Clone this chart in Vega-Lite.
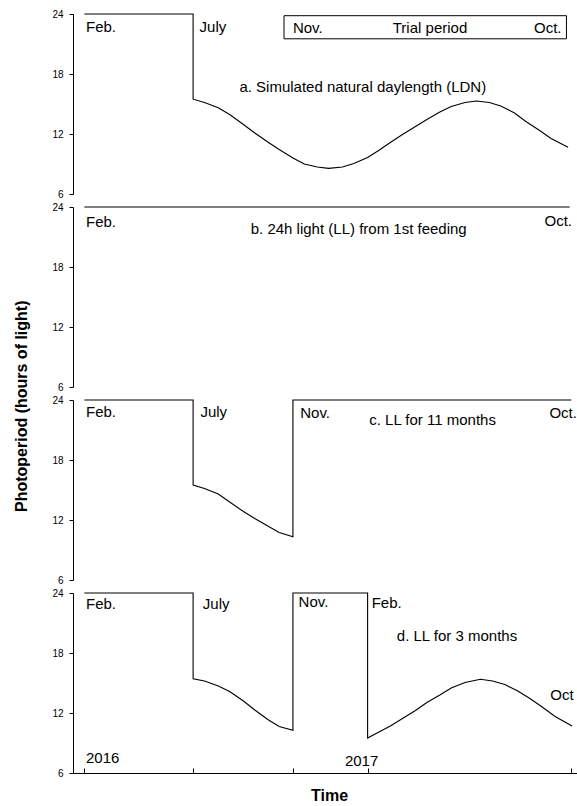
{
  "$schema": "https://vega.github.io/schema/vega-lite/v6.json",
  "padding": {"left": 13, "top": 9, "right": 0, "bottom": 0},
  "background": "white",
  "bounds": "flush",
  "config": {
    "font": "Liberation Sans",
    "view": {"stroke": null},
    "axis": {
      "grid": false,
      "domainColor": "#000000",
      "tickColor": "#000000",
      "labelColor": "#000000",
      "titleColor": "#000000",
      "labelFont": "Liberation Sans",
      "titleFont": "Liberation Sans",
      "labelFontSize": 10,
      "domainWidth": 1,
      "tickWidth": 1
    },
    "text": {"font": "Liberation Sans", "fontSize": 15, "color": "#000000", "align": "left", "baseline": "alphabetic"},
    "line": {"color": "#000000", "strokeWidth": 1.1}
  },
  "title": {
    "text": "Photoperiod (hours of light)",
    "orient": "left",
    "anchor": "middle",
    "font": "Liberation Sans",
    "fontSize": 16,
    "fontWeight": "bold",
    "color": "#000000",
    "offset": 22
  },
  "datasets": {
    "ldn": [
      {"i": 1, "date": "2016-02-18", "hours": 24},
      {"i": 2, "date": "2016-07-01", "hours": 24},
      {"i": 3, "date": "2016-07-01", "hours": 15.48},
      {"i": 4, "date": "2016-07-15", "hours": 15.15},
      {"i": 5, "date": "2016-08-01", "hours": 14.63},
      {"i": 6, "date": "2016-08-15", "hours": 13.95},
      {"i": 7, "date": "2016-09-01", "hours": 12.95},
      {"i": 8, "date": "2016-09-15", "hours": 12.1},
      {"i": 9, "date": "2016-10-01", "hours": 11.2},
      {"i": 10, "date": "2016-10-15", "hours": 10.45},
      {"i": 11, "date": "2016-11-01", "hours": 9.6},
      {"i": 12, "date": "2016-11-15", "hours": 9.0},
      {"i": 13, "date": "2016-12-01", "hours": 8.7},
      {"i": 14, "date": "2016-12-15", "hours": 8.56},
      {"i": 15, "date": "2017-01-01", "hours": 8.7},
      {"i": 16, "date": "2017-01-15", "hours": 9.05},
      {"i": 17, "date": "2017-02-01", "hours": 9.65},
      {"i": 18, "date": "2017-02-15", "hours": 10.38},
      {"i": 19, "date": "2017-03-01", "hours": 11.15},
      {"i": 20, "date": "2017-03-15", "hours": 11.9},
      {"i": 21, "date": "2017-04-01", "hours": 12.75},
      {"i": 22, "date": "2017-04-15", "hours": 13.45},
      {"i": 23, "date": "2017-05-01", "hours": 14.2},
      {"i": 24, "date": "2017-05-15", "hours": 14.75},
      {"i": 25, "date": "2017-06-01", "hours": 15.15},
      {"i": 26, "date": "2017-06-15", "hours": 15.3},
      {"i": 27, "date": "2017-07-01", "hours": 15.15},
      {"i": 28, "date": "2017-07-15", "hours": 14.8},
      {"i": 29, "date": "2017-08-01", "hours": 14.1},
      {"i": 30, "date": "2017-08-15", "hours": 13.25},
      {"i": 31, "date": "2017-09-01", "hours": 12.35},
      {"i": 32, "date": "2017-09-15", "hours": 11.55},
      {"i": 33, "date": "2017-10-06", "hours": 10.68}
    ],
    "ll": [
      {"i": 1, "date": "2016-02-18", "hours": 24},
      {"i": 2, "date": "2017-10-08", "hours": 24}
    ],
    "ll11": [
      {"i": 1, "date": "2016-02-18", "hours": 24},
      {"i": 2, "date": "2016-07-01", "hours": 24},
      {"i": 3, "date": "2016-07-01", "hours": 15.5},
      {"i": 4, "date": "2016-07-15", "hours": 15.15},
      {"i": 5, "date": "2016-08-01", "hours": 14.6},
      {"i": 6, "date": "2016-08-15", "hours": 13.8},
      {"i": 7, "date": "2016-09-01", "hours": 12.85},
      {"i": 8, "date": "2016-09-15", "hours": 12.15},
      {"i": 9, "date": "2016-10-01", "hours": 11.4},
      {"i": 10, "date": "2016-10-15", "hours": 10.75},
      {"i": 11, "date": "2016-11-01", "hours": 10.33},
      {"i": 12, "date": "2016-11-01", "hours": 24},
      {"i": 13, "date": "2017-10-10", "hours": 24}
    ],
    "ll3": [
      {"i": 1, "date": "2016-02-18", "hours": 24},
      {"i": 2, "date": "2016-07-01", "hours": 24},
      {"i": 3, "date": "2016-07-01", "hours": 15.43},
      {"i": 4, "date": "2016-07-15", "hours": 15.2},
      {"i": 5, "date": "2016-08-01", "hours": 14.7},
      {"i": 6, "date": "2016-08-15", "hours": 14.15},
      {"i": 7, "date": "2016-09-01", "hours": 13.2},
      {"i": 8, "date": "2016-09-15", "hours": 12.3},
      {"i": 9, "date": "2016-10-01", "hours": 11.35},
      {"i": 10, "date": "2016-10-15", "hours": 10.65},
      {"i": 11, "date": "2016-11-01", "hours": 10.27},
      {"i": 12, "date": "2016-11-01", "hours": 24},
      {"i": 13, "date": "2017-02-01", "hours": 24},
      {"i": 14, "date": "2017-02-01", "hours": 9.5},
      {"i": 15, "date": "2017-02-15", "hours": 10.1},
      {"i": 16, "date": "2017-03-01", "hours": 10.7},
      {"i": 17, "date": "2017-03-15", "hours": 11.4},
      {"i": 18, "date": "2017-04-01", "hours": 12.25},
      {"i": 19, "date": "2017-04-15", "hours": 13.05},
      {"i": 20, "date": "2017-05-01", "hours": 13.8},
      {"i": 21, "date": "2017-05-15", "hours": 14.5},
      {"i": 22, "date": "2017-06-01", "hours": 15.05},
      {"i": 23, "date": "2017-06-20", "hours": 15.37},
      {"i": 24, "date": "2017-07-05", "hours": 15.2},
      {"i": 25, "date": "2017-07-20", "hours": 14.85},
      {"i": 26, "date": "2017-08-05", "hours": 14.2},
      {"i": 27, "date": "2017-08-20", "hours": 13.45},
      {"i": 28, "date": "2017-09-05", "hours": 12.55},
      {"i": 29, "date": "2017-09-20", "hours": 11.65},
      {"i": 30, "date": "2017-10-11", "hours": 10.7}
    ],
    "trial": [
      {"start": "2016-10-21", "end": "2017-10-04", "top": 23.83, "bottom": 21.52}
    ],
    "labels": [
      {"panel": "a", "date": "2016-02-20", "hours": 22.16, "label": "Feb."},
      {"panel": "a", "date": "2016-07-09", "hours": 22.2, "label": "July"},
      {"panel": "a", "date": "2016-08-27", "hours": 16.2, "label": "a. Simulated natural daylength (LDN)"},
      {"panel": "a", "date": "2016-11-01", "hours": 22.06, "label": "Nov."},
      {"panel": "a", "date": "2017-03-04", "hours": 22.06, "label": "Trial period"},
      {"panel": "a", "date": "2017-08-25", "hours": 22.06, "label": "Oct."},
      {"panel": "b", "date": "2016-02-20", "hours": 22.02, "label": "Feb."},
      {"panel": "b", "date": "2016-09-10", "hours": 21.35, "label": "b. 24h light (LL) from 1st feeding"},
      {"panel": "b", "date": "2017-09-07", "hours": 22.09, "label": "Oct."},
      {"panel": "c", "date": "2016-02-20", "hours": 22.26, "label": "Feb."},
      {"panel": "c", "date": "2016-07-10", "hours": 22.26, "label": "July"},
      {"panel": "c", "date": "2016-11-10", "hours": 22.16, "label": "Nov."},
      {"panel": "c", "date": "2017-02-03", "hours": 21.49, "label": "c. LL for 11 months"},
      {"panel": "c", "date": "2017-09-13", "hours": 22.2, "label": "Oct."},
      {"panel": "d", "date": "2016-02-20", "hours": 22.36, "label": "Feb."},
      {"panel": "d", "date": "2016-07-13", "hours": 22.36, "label": "July"},
      {"panel": "d", "date": "2016-11-08", "hours": 22.56, "label": "Nov."},
      {"panel": "d", "date": "2017-02-06", "hours": 22.46, "label": "Feb."},
      {"panel": "d", "date": "2017-03-09", "hours": 19.2, "label": "d. LL for 3 months"},
      {"panel": "d", "date": "2017-09-14", "hours": 13.34, "label": "Oct"},
      {"panel": "d", "date": "2016-02-20", "hours": 6.97, "label": "2016"},
      {"panel": "d", "date": "2017-01-04", "hours": 6.7, "label": "2017"}
    ]
  },
  "spacing": 13,
  "vconcat": [
    {
      "width": 504,
      "height": 180,
      "layer": [
        {
          "data": {"name": "ldn"},
          "mark": "line",
          "encoding": {
            "x": {"field": "date", "type": "temporal", "scale": {"type": "utc", "domain": [{"year": 2016, "month": 2, "date": 4, "utc": true}, {"year": 2017, "month": 10, "date": 17, "utc": true}]}, "axis": null},
            "y": {"field": "hours", "type": "quantitative", "scale": {"domain": [6, 24], "nice": false, "zero": false}, "axis": {"values": [6, 12, 18, 24], "title": null, "tickSize": 4, "labelPadding": 6}},
            "order": {"field": "i", "type": "quantitative"}
          }
        },
        {
          "data": {"name": "trial"},
          "mark": {"type": "rect", "fill": "white", "fillOpacity": 0, "stroke": "#000000", "strokeWidth": 1},
          "encoding": {
            "x": {"field": "start", "type": "temporal"},
            "x2": {"field": "end"},
            "y": {"field": "top", "type": "quantitative", "title": null},
            "y2": {"field": "bottom"}
          }
        },
        {
          "data": {"name": "labels"},
          "transform": [{"filter": "datum.panel === 'a'"}],
          "mark": "text",
          "encoding": {
            "x": {"field": "date", "type": "temporal"},
            "y": {"field": "hours", "type": "quantitative", "title": null},
            "text": {"field": "label"}
          }
        }
      ]
    },
    {
      "width": 504,
      "height": 180,
      "layer": [
        {
          "data": {"name": "ll"},
          "mark": "line",
          "encoding": {
            "x": {"field": "date", "type": "temporal", "scale": {"type": "utc", "domain": [{"year": 2016, "month": 2, "date": 4, "utc": true}, {"year": 2017, "month": 10, "date": 17, "utc": true}]}, "axis": null},
            "y": {"field": "hours", "type": "quantitative", "scale": {"domain": [6, 24], "nice": false, "zero": false}, "axis": {"values": [6, 12, 18, 24], "title": null, "tickSize": 4, "labelPadding": 6}},
            "order": {"field": "i", "type": "quantitative"}
          }
        },
        {
          "data": {"name": "labels"},
          "transform": [{"filter": "datum.panel === 'b'"}],
          "mark": "text",
          "encoding": {
            "x": {"field": "date", "type": "temporal"},
            "y": {"field": "hours", "type": "quantitative", "title": null},
            "text": {"field": "label"}
          }
        }
      ]
    },
    {
      "width": 504,
      "height": 180,
      "layer": [
        {
          "data": {"name": "ll11"},
          "mark": "line",
          "encoding": {
            "x": {"field": "date", "type": "temporal", "scale": {"type": "utc", "domain": [{"year": 2016, "month": 2, "date": 4, "utc": true}, {"year": 2017, "month": 10, "date": 17, "utc": true}]}, "axis": null},
            "y": {"field": "hours", "type": "quantitative", "scale": {"domain": [6, 24], "nice": false, "zero": false}, "axis": {"values": [6, 12, 18, 24], "title": null, "tickSize": 4, "labelPadding": 6}},
            "order": {"field": "i", "type": "quantitative"}
          }
        },
        {
          "data": {"name": "labels"},
          "transform": [{"filter": "datum.panel === 'c'"}],
          "mark": "text",
          "encoding": {
            "x": {"field": "date", "type": "temporal"},
            "y": {"field": "hours", "type": "quantitative", "title": null},
            "text": {"field": "label"}
          }
        }
      ]
    },
    {
      "width": 504,
      "height": 180,
      "layer": [
        {
          "data": {"name": "ll3"},
          "mark": "line",
          "encoding": {
            "x": {"field": "date", "type": "temporal", "scale": {"type": "utc", "domain": [{"year": 2016, "month": 2, "date": 4, "utc": true}, {"year": 2017, "month": 10, "date": 17, "utc": true}]},
              "axis": {
                "values": [
                  {"year": 2016, "month": 2, "date": 18, "utc": true},
                  {"year": 2016, "month": 7, "date": 1, "utc": true},
                  {"year": 2016, "month": 11, "date": 1, "utc": true},
                  {"year": 2017, "month": 2, "date": 1, "utc": true},
                  {"year": 2017, "month": 10, "date": 10, "utc": true}
                ],
                "labels": false,
                "tickSize": -5,
                "title": "Time",
                "titleFontSize": 16,
                "titleFontWeight": "bold",
                "titlePadding": 14,
                "titleX": 256
              }
            },
            "y": {"field": "hours", "type": "quantitative", "scale": {"domain": [6, 24], "nice": false, "zero": false}, "axis": {"values": [6, 12, 18, 24], "title": null, "tickSize": 4, "labelPadding": 6}},
            "order": {"field": "i", "type": "quantitative"}
          }
        },
        {
          "data": {"name": "labels"},
          "transform": [{"filter": "datum.panel === 'd'"}],
          "mark": "text",
          "encoding": {
            "x": {"field": "date", "type": "temporal"},
            "y": {"field": "hours", "type": "quantitative", "title": null},
            "text": {"field": "label"}
          }
        }
      ]
    }
  ]
}
